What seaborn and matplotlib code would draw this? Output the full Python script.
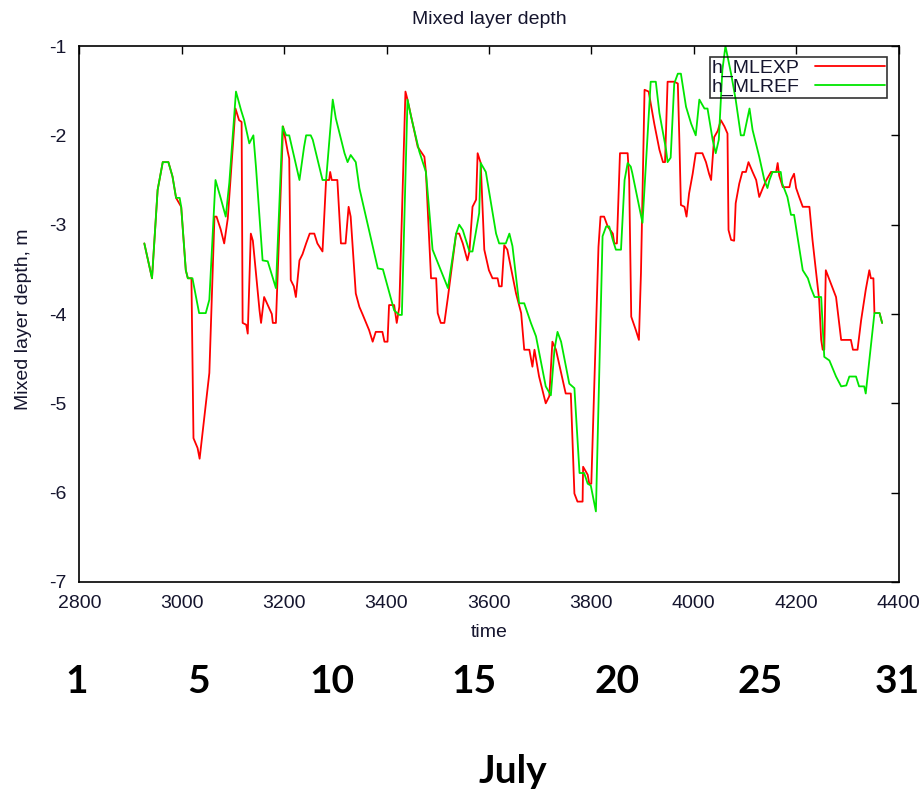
import matplotlib
matplotlib.use("Agg")
import matplotlib.pyplot as plt
import matplotlib.transforms as mtransforms
import pandas as pd
import seaborn as sns

# ---------------- data ----------------
title = "Mixed layer depth"
xlabel = "time"
ylabel = "Mixed layer depth, m"
series_names = ["h_MLEXP", "h_MLREF"]
series_colors = ["#ff0000", "#00e600"]
xticks = [2800, 3000, 3200, 3400, 3600, 3800, 4000, 4200, 4400]
yticks = [-7, -6, -5, -4, -3, -2, -1]
day_labels = ["1", "5", "10", "15", "20", "25", "31"]
day_times = [2794, 3032, 3294, 3571, 3850, 4129, 4398]
month_label = "July"

exp_time = [2927, 2942, 2953, 2963, 2974, 2982, 2989, 2999, 3008, 3012, 3019, 3023,
            3031, 3035, 3054, 3064, 3068, 3076, 3083, 3090, 3105, 3112, 3117, 3119,
            3126, 3129, 3135, 3139, 3152, 3155, 3161, 3168, 3176, 3178, 3184, 3198,
            3207, 3210, 3213, 3219, 3223, 3230, 3236, 3243, 3250, 3259, 3265, 3275,
            3282, 3288, 3290, 3293, 3304, 3311, 3320, 3326, 3330, 3340, 3347, 3353,
            3366, 3373, 3379, 3392, 3396, 3402, 3405, 3415, 3420, 3425, 3437, 3441,
            3461, 3474, 3477, 3487, 3497, 3500, 3506, 3513, 3520, 3536, 3542, 3549,
            3558, 3562, 3568, 3575, 3578, 3584, 3591, 3600, 3607, 3617, 3620, 3625,
            3630, 3636, 3653, 3663, 3669, 3679, 3685, 3689, 3698, 3711, 3718, 3724,
            3731, 3750, 3760, 3767, 3773, 3783, 3784, 3793, 3796, 3800, 3814, 3818,
            3825, 3832, 3842, 3845, 3850, 3853, 3856, 3871, 3874, 3878, 3887, 3893,
            3897, 3904, 3912, 3923, 3933, 3940, 3944, 3949, 3962, 3969, 3972, 3975,
            3982, 3986, 3991, 3998, 4004, 4017, 4024, 4030, 4034, 4040, 4047, 4053,
            4060, 4066, 4068, 4073, 4079, 4082, 4089, 4095, 4102, 4107, 4115, 4122,
            4128, 4135, 4142, 4151, 4161, 4164, 4167, 4174, 4187, 4190, 4196, 4200,
            4206, 4213, 4226, 4232, 4245, 4249, 4252, 4255, 4258, 4268, 4278, 4288,
            4307, 4311, 4320, 4327, 4336, 4343, 4346, 4351, 4353, 4363, 4368]
exp_depth = [-3.21, -3.60, -2.61, -2.30, -2.30, -2.46, -2.70, -2.80, -3.51, -3.60, -3.60, -5.39,
             -5.50, -5.62, -4.66, -2.91, -2.91, -3.05, -3.21, -2.93, -1.70, -1.83, -1.85, -4.10,
             -4.12, -4.22, -3.10, -3.18, -3.96, -4.10, -3.81, -3.90, -4.00, -4.10, -4.10, -1.90,
             -2.18, -2.26, -3.62, -3.69, -3.81, -3.40, -3.33, -3.21, -3.10, -3.10, -3.21, -3.30,
             -2.50, -2.50, -2.41, -2.50, -2.50, -3.21, -3.21, -2.80, -2.91, -3.77, -3.92, -4.00,
             -4.18, -4.31, -4.20, -4.20, -4.31, -4.31, -3.90, -3.90, -4.10, -3.92, -1.51, -1.60,
             -2.13, -2.24, -2.41, -3.60, -3.60, -3.99, -4.10, -4.10, -3.81, -3.10, -3.10, -3.21,
             -3.40, -3.30, -2.80, -2.72, -2.20, -2.31, -3.28, -3.51, -3.60, -3.60, -3.69, -3.69,
             -3.23, -3.28, -3.77, -3.99, -4.40, -4.40, -4.59, -4.40, -4.70, -5.00, -4.92, -4.31,
             -4.40, -4.89, -4.89, -6.01, -6.10, -6.10, -5.71, -5.80, -5.90, -5.90, -3.25, -2.91,
             -2.91, -3.02, -3.10, -3.21, -3.21, -2.69, -2.20, -2.20, -2.50, -4.03, -4.18, -4.29,
             -3.54, -1.49, -1.51, -1.87, -2.16, -2.30, -2.30, -1.40, -1.40, -1.42, -2.05, -2.78,
             -2.80, -2.91, -2.65, -2.43, -2.20, -2.20, -2.30, -2.43, -2.50, -2.02, -1.95, -1.83,
             -1.90, -1.98, -3.06, -3.17, -3.18, -2.76, -2.54, -2.41, -2.41, -2.30, -2.41, -2.50,
             -2.69, -2.59, -2.50, -2.41, -2.41, -2.31, -2.45, -2.58, -2.58, -2.50, -2.43, -2.59,
             -2.69, -2.80, -2.80, -3.17, -3.84, -4.29, -4.40, -4.40, -3.51, -3.66, -3.81, -4.29,
             -4.29, -4.40, -4.40, -4.07, -3.73, -3.51, -3.60, -3.60, -3.99, -3.99, -4.10]

ref_time = [2927, 2942, 2953, 2963, 2974, 2982, 2989, 2996, 2999, 3008, 3012, 3021,
            3034, 3047, 3054, 3066, 3077, 3086, 3093, 3106, 3116, 3122, 3132, 3140,
            3145, 3158, 3168, 3184, 3197, 3204, 3210, 3230, 3239, 3243, 3252, 3256,
            3275, 3282, 3295, 3301, 3318, 3324, 3330, 3340, 3347, 3383, 3393, 3415,
            3425, 3430, 3441, 3448, 3464, 3477, 3490, 3506, 3520, 3536, 3542, 3549,
            3562, 3568, 3581, 3584, 3594, 3614, 3620, 3633, 3640, 3646, 3659, 3669,
            3682, 3692, 3711, 3721, 3728, 3734, 3741, 3757, 3767, 3777, 3786, 3793,
            3799, 3809, 3822, 3829, 3835, 3842, 3848, 3858, 3865, 3871, 3877, 3880,
            3900, 3916, 3926, 3933, 3946, 3949, 3955, 3962, 3969, 3975, 3985, 3995,
            4004, 4011, 4021, 4027, 4037, 4043, 4049, 4056, 4062, 4073, 4082, 4092,
            4098, 4109, 4115, 4128, 4138, 4144, 4148, 4154, 4170, 4173, 4183, 4190,
            4196, 4213, 4223, 4229, 4236, 4249, 4255, 4265, 4278, 4288, 4298, 4304,
            4317, 4323, 4333, 4336, 4343, 4353, 4363, 4368]
ref_depth = [-3.21, -3.60, -2.61, -2.30, -2.30, -2.46, -2.70, -2.70, -2.80, -3.51, -3.60, -3.60,
             -3.99, -3.99, -3.84, -2.50, -2.72, -2.91, -2.53, -1.51, -1.72, -1.83, -2.09, -2.00,
             -2.35, -3.40, -3.41, -3.71, -1.90, -2.00, -2.00, -2.50, -2.13, -2.00, -2.00, -2.05,
             -2.50, -2.50, -1.60, -1.81, -2.20, -2.30, -2.22, -2.30, -2.59, -3.49, -3.50, -3.96,
             -4.01, -4.01, -1.60, -1.79, -2.18, -2.41, -3.28, -3.51, -3.71, -3.10, -3.00, -3.06,
             -3.30, -3.30, -2.87, -2.31, -2.41, -3.10, -3.21, -3.21, -3.10, -3.24, -3.88, -3.88,
             -4.10, -4.25, -4.81, -4.91, -4.40, -4.20, -4.31, -4.78, -4.83, -5.78, -5.78, -5.90,
             -5.92, -6.21, -3.13, -3.02, -3.02, -3.17, -3.28, -3.28, -2.50, -2.31, -2.35, -2.42,
             -2.98, -1.40, -1.40, -1.75, -2.16, -2.30, -2.25, -1.42, -1.31, -1.31, -1.68, -1.87,
             -2.00, -1.60, -1.70, -1.70, -2.05, -2.20, -2.05, -1.27, -1.00, -1.31, -1.60, -2.00,
             -2.00, -1.70, -1.94, -2.24, -2.50, -2.59, -2.50, -2.41, -2.41, -2.54, -2.69, -2.89,
             -2.89, -3.51, -3.60, -3.71, -3.81, -3.81, -4.48, -4.52, -4.70, -4.81, -4.80, -4.70,
             -4.70, -4.81, -4.81, -4.89, -4.52, -3.99, -3.99, -4.10]

# ---------------- style ----------------
sns.set_style("white")
text_color = "#15152e"
plt.rcParams["font.family"] = ["Liberation Sans", "DejaVu Sans"]
plt.rcParams["axes.unicode_minus"] = False
plt.rcParams["axes.edgecolor"] = "black"
plt.rcParams["axes.linewidth"] = 1.2
plt.rcParams["text.color"] = text_color
plt.rcParams["axes.labelcolor"] = text_color

df = pd.concat([
    pd.DataFrame({"time": exp_time, "depth": exp_depth, "series": series_names[0]}),
    pd.DataFrame({"time": ref_time, "depth": ref_depth, "series": series_names[1]}),
], ignore_index=True)

fig = plt.figure(figsize=(9.21, 7.94), dpi=100)
ax = fig.add_axes([79.3 / 921, 212 / 794, 819.2 / 921, 536 / 794])

sns.lineplot(data=df, x="time", y="depth", hue="series",
             palette=dict(zip(series_names, series_colors)),
             estimator=None, linewidth=1.3, ax=ax, legend=True)

ax.set_xlim(xticks[0], xticks[-1])
ax.set_ylim(yticks[0], yticks[-1])
ax.set_xticks(xticks)
ax.set_yticks(yticks)
ax.tick_params(direction="in", top=True, right=True, length=6, width=1.0,
               labelsize=14, pad=9, color="black", labelcolor=text_color)

ax.set_title(title, fontsize=14, pad=16, color=text_color)
ax.set_xlabel(xlabel, fontsize=14)
ax.set_ylabel(ylabel, fontsize=14)
ax.xaxis.set_label_coords(0.5, -0.078)
ax.yaxis.set_label_coords(-0.058, 0.49)

handles, labels = ax.get_legend_handles_labels()
leg = ax.legend(handles, labels, loc="upper right", bbox_to_anchor=(0.986, 0.979),
                markerfirst=False, frameon=True, fancybox=False, edgecolor="black",
                facecolor="none", borderaxespad=0, fontsize=14,
                handlelength=3.6, handletextpad=0.8, borderpad=0.1, labelspacing=0.05)
leg.get_frame().set_linewidth(1.2)
for txt in leg.get_texts():
    txt.set_color(text_color)

blend = mtransforms.blended_transform_factory(ax.transData, fig.transFigure)
for t, lab in zip(day_times, day_labels):
    ax.text(t, 1 - 693 / 794, lab, transform=blend, ha="center", va="baseline",
            fontsize=28, fontweight="bold", family="Lato", color="black", clip_on=False)
fig.text(513 / 921, 1 - 783 / 794, month_label, ha="center", va="baseline",
         fontsize=28, fontweight="bold", family="Lato", color="black")

fig.savefig("out.png", dpi=100)
